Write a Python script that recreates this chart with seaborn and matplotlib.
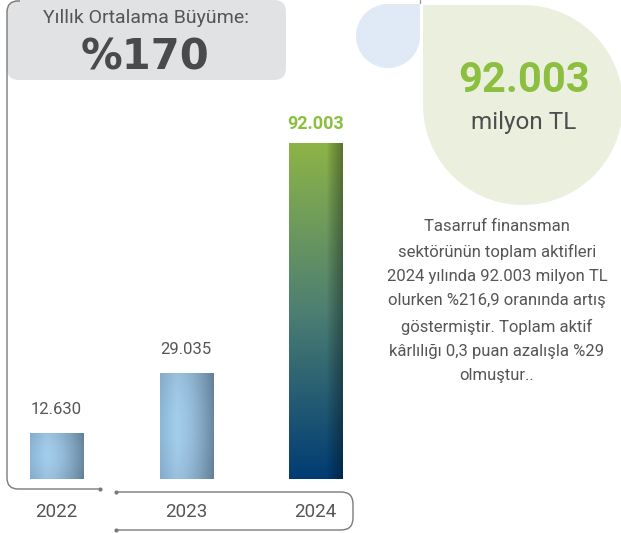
import matplotlib
matplotlib.use("Agg")
import matplotlib.pyplot as plt
import numpy as np
import pandas as pd
import seaborn as sns
from matplotlib.patches import FancyBboxPatch, Wedge, Rectangle, PathPatch
from matplotlib.path import Path
from matplotlib.colors import to_rgb

# data
years = ["2022", "2023", "2024"]
assets = [12630, 29035, 92003]
value_labels = ["12.630", "29.035", "92.003"]
growth_title = "Yıllık Ortalama Büyüme:"
growth_value = "%170"
headline_value = "92.003"
headline_unit = "milyon TL"
note = ("Tasarruf finansman\n"
        "sektörünün toplam aktifleri\n"
        "2024 yılında 92.003 milyon TL\n"
        "olurken %216,9 oranında artış\n"
        "göstermiştir. Toplam aktif\n"
        "kârlılığı 0,3 puan azalışla %29\n"
        "olmuştur..")

GREEN = "#8cbf3f"
TEXT = "#555557"
LINE = "#7a7a7a"

sns.set_theme(style="white")
plt.rcParams["font.family"] = ["Roboto", "DejaVu Sans"]

W, H = 621, 533
fig = plt.figure(figsize=(W / 100, H / 100), dpi=100)

# decoration layer in pixel coordinates
deco = fig.add_axes([0, 0, 1, 1])
deco.set_xlim(0, W)
deco.set_ylim(H, 0)
deco.axis("off")


def rounded_path(points, r):
    verts, codes = [points[0]], [Path.MOVETO]
    for i in range(1, len(points) - 1):
        p0, p1, p2 = (np.array(p, float) for p in points[i - 1:i + 2])
        d1 = (p0 - p1) / np.linalg.norm(p0 - p1)
        d2 = (p2 - p1) / np.linalg.norm(p2 - p1)
        verts += [p1 + d1 * r, p1, p1 + d2 * r]
        codes += [Path.LINETO, Path.CURVE3, Path.CURVE3]
    verts.append(points[-1])
    codes.append(Path.LINETO)
    return Path(verts, codes)


# grey title box
deco.add_patch(FancyBboxPatch((7, 0), 279, 80, boxstyle="round,pad=0,rounding_size=12",
                              fc="#e1e2e4", ec="none"))
deco.text(146, 18, growth_title, ha="center", va="center", fontsize=14, color=TEXT)
deco.text(145, 57, growth_value, ha="center", va="center", fontsize=30,
          fontweight="bold", color="#4a4a4c", family=["DejaVu Sans"])

# brackets
deco.add_patch(PathPatch(rounded_path([(20, 1), (7, 1), (7, 489), (100, 489)], 11),
                         fc="none", ec=LINE, lw=1))
deco.add_patch(PathPatch(rounded_path([(116, 492), (353, 492), (353, 530), (116, 530)], 12),
                         fc="none", ec=LINE, lw=1))
deco.plot([100, 116, 116], [489, 492, 530], "o", ms=2, color=LINE)
deco.plot([420, 420], [0, 3], color="#9a9a9a", lw=1)

# drop shapes
deco.add_patch(Wedge((388, 36), 32, 0, 270, fc="#dfeaf6", ec="none"))
deco.add_patch(Rectangle((388, 4), 32, 32, fc="#dfeaf6", ec="none"))
deco.add_patch(Wedge((523, 105), 100, 270, 540, fc="#ebf0de", ec="none"))
deco.add_patch(Rectangle((423, 5), 100, 100, fc="#ebf0de", ec="none"))
deco.text(524, 80, headline_value, ha="center", va="center", fontsize=30,
          fontweight="bold", color=GREEN)
deco.text(524, 123, headline_unit, ha="center", va="center", fontsize=17.5, color="#4d4d4f")

deco.text(497, 301, note, ha="center", va="center", multialignment="center",
          fontsize=12, color=TEXT, linespacing=1.78)

# bars
ax = fig.add_axes([4.6 / W, 54 / H, 363 / W, 365 / H])
ax.patch.set_alpha(0)
df = pd.DataFrame({"year": years, "assets": assets})
sns.barplot(data=df, x="year", y="assets", ax=ax, width=0.41, color="#a0cbe8",
            saturation=1)


def bar_image(kind, n=200):
    xs = np.linspace(0, 1, n)
    ys = np.linspace(0, 1, n)
    if kind == "light":
        light, mid, dark = np.array(to_rgb("#8cb6d6")), np.array(to_rgb("#a3cdec")), np.array(to_rgb("#6886a0"))
        row = np.where(xs[:, None] < 0.3,
                       light + (mid - light) * (xs[:, None] / 0.3),
                       mid + (dark - mid) * ((xs[:, None] - 0.3) / 0.7) ** 1.6)
        vert = 0.94 + 0.06 * np.sin(np.pi * ys)[:, None, None]
        img = row[None, :, :] * vert
    else:
        top, midc, bot = np.array(to_rgb("#8db446")), np.array(to_rgb("#4d7f72")), np.array(to_rgb("#003c74"))
        col = np.where(ys[:, None] > 0.5,
                       midc + (top - midc) * ((ys[:, None] - 0.5) / 0.5),
                       bot + (midc - bot) * (ys[:, None] / 0.5))
        shade = np.where(xs > 0.7, 1 - 0.35 * ((xs - 0.7) / 0.3) ** 0.8, 1.0)
        img = col[:, None, :] * shade[None, :, None]
    return np.clip(img, 0, 1)


for i, patch in enumerate(ax.patches):
    x0, y0 = patch.get_x(), patch.get_y()
    w, h = patch.get_width(), patch.get_height()
    im = ax.imshow(bar_image("green" if i == 2 else "light"), origin="lower", aspect="auto",
                   extent=[x0, x0 + w, y0, y0 + h], zorder=3)
    im.set_clip_path(patch)
    if i == 2:
        ax.annotate(value_labels[i], (x0 + w / 2, y0 + h), xytext=(0, 14),
                    textcoords="offset points", ha="center", va="center",
                    fontsize=13, color=GREEN, fontweight="bold")
    else:
        ax.annotate(value_labels[i], (x0 + w / 2, y0 + h), xytext=(0, 17),
                    textcoords="offset points", ha="center", va="center",
                    fontsize=12, color=TEXT)

ax.set_xlim(-0.4, 2.4)
ax.set_ylim(0, 100000)
ax.set_xlabel("")
ax.set_ylabel("")
ax.set_yticks([])
sns.despine(ax=ax, left=True, bottom=True)
ax.tick_params(axis="x", length=0, pad=17, labelsize=13.5, labelcolor=TEXT)

fig.savefig("out.png", dpi=100)
